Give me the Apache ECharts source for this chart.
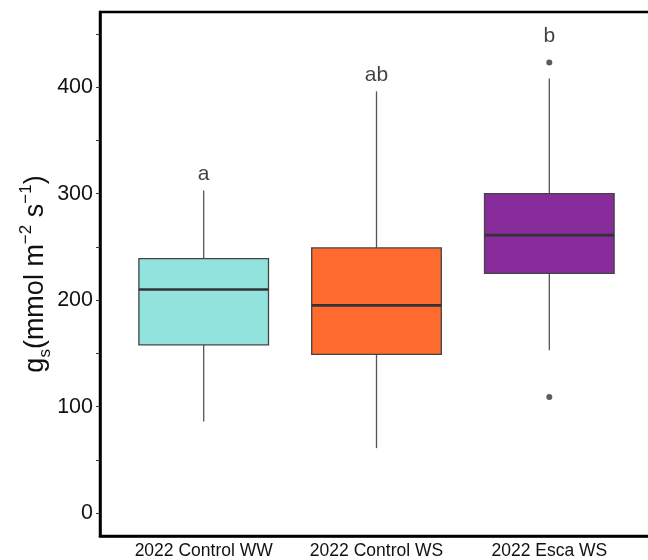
<!DOCTYPE html>
<html>
<head>
<meta charset="utf-8">
<script src="https://cdn.jsdelivr.net/npm/echarts@6/dist/echarts.min.js"></script>
<style>html,body{margin:0;padding:0;background:#fff}#c{width:648px;height:560px}</style>
</head>
<body>
<div id="c"></div>
<script>
const categories = ['2022 Control WW', '2022 Control WS', '2022 Esca WS'];
const whiskerLow = [86, 61, 153];
const q1 = [158, 149, 225];
const median = [210, 195, 261];
const q3 = [239, 249, 300];
const whiskerHigh = [303, 396, 408];
const outliers = [[3, 423], [3, 109]];
const letters = ['a', 'ab', 'b'];
const letterY = [318, 411, 448];
const colors = ['#92e3dd', '#ff6a2e', '#882b9b'];
const yTicks = [0, 50, 100, 150, 200, 250, 300, 350, 400, 450];
const yLabels = [0, 100, 200, 300, 400];

const font = '"Liberation Sans", Arial, sans-serif';
const boxData = categories.map((c, i) => [i + 1, whiskerLow[i], q1[i], median[i], q3[i], whiskerHigh[i]]);

const chart = echarts.init(document.getElementById('c'), null, {renderer: 'canvas'});
chart.setOption({
  animation: false,
  backgroundColor: '#fff',
  grid: {left: 100, top: 12, width: 553, height: 524, outerBoundsMode: 'none', containLabel: false,
    show: true, borderColor: '#000', borderWidth: 2.5, backgroundColor: 'transparent'},
  xAxis: {
    type: 'value', min: 0.4, max: 3.6,
    splitLine: {show: false},
    axisLine: {show: true, onZero: false, lineStyle: {color: '#000', width: 2.5}},
    axisTick: {show: false},
    axisLabel: {
      customValues: [1, 2, 3],
      formatter: v => categories[Math.round(v) - 1] || '',
      fontFamily: font, fontSize: 17.5, color: '#111', margin: 6
    }
  },
  yAxis: {
    type: 'value', min: -21.5, max: 470.5,
    splitLine: {show: false},
    axisLine: {show: true, onZero: false, lineStyle: {color: '#000', width: 2.5}},
    axisTick: {show: true, customValues: yTicks, length: 4, lineStyle: {color: '#333', width: 1}},
    axisLabel: {customValues: yLabels, fontFamily: font, fontSize: 21.5, color: '#111', margin: 7},
    name: '{t|g}{sub|s}{t|(mmol m}{sup|−2}{t| s}{sup|−1}{t|)}',
    nameLocation: 'middle',
    nameGap: 46,
    nameMoveOverlap: false,
    nameTextStyle: {
      fontFamily: font, color: '#111',
      rich: {
        t: {fontFamily: font, fontSize: 27, color: '#111', lineHeight: 36, verticalAlign: 'middle'},
        sub: {fontFamily: font, fontSize: 17, color: '#111', lineHeight: 17, verticalAlign: 'bottom'},
        sup: {fontFamily: font, fontSize: 17, color: '#111', lineHeight: 17, verticalAlign: 'top'}
      }
    }
  },
  series: [
    {
      type: 'custom',
      data: boxData,
      encode: {x: 0, y: [1, 2, 3, 4, 5]},
      renderItem: function (params, api) {
        const x = api.value(0);
        const half = api.size([0.75, 0])[0] / 2;
        const pLow = api.coord([x, api.value(1)]);
        const pQ1 = api.coord([x, api.value(2)]);
        const pMed = api.coord([x, api.value(3)]);
        const pQ3 = api.coord([x, api.value(4)]);
        const pHigh = api.coord([x, api.value(5)]);
        const cx = pQ1[0];
        const idx = params.dataIndex;
        return {
          type: 'group',
          children: [
            {type: 'line', shape: {x1: cx, y1: pQ3[1], x2: cx, y2: pHigh[1]}, style: {stroke: '#555', lineWidth: 1.3}},
            {type: 'line', shape: {x1: cx, y1: pQ1[1], x2: cx, y2: pLow[1]}, style: {stroke: '#555', lineWidth: 1.3}},
            {type: 'rect', shape: {x: cx - half, y: pQ3[1], width: 2 * half, height: pQ1[1] - pQ3[1]},
              style: {fill: colors[idx], stroke: '#444', lineWidth: 1.3}},
            {type: 'line', shape: {x1: cx - half, y1: pMed[1], x2: cx + half, y2: pMed[1]}, style: {stroke: '#333', lineWidth: 2.6}}
          ]
        };
      }
    },
    {
      type: 'scatter',
      data: outliers,
      symbol: 'circle',
      symbolSize: 6,
      itemStyle: {color: '#333'}
    },
    {
      type: 'scatter',
      data: letters.map((l, i) => [i + 1, letterY[i]]),
      symbolSize: 0,
      label: {
        show: true, position: 'inside',
        formatter: p => letters[p.dataIndex],
        fontFamily: font, fontSize: 21, color: '#111'
      }
    }
  ]
});
</script>
</body>
</html>
